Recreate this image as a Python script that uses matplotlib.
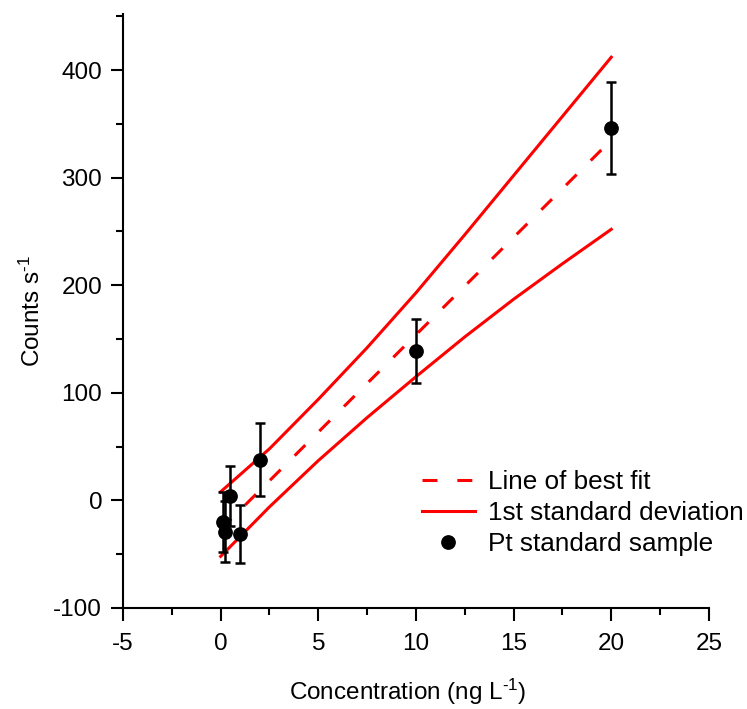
import matplotlib
matplotlib.use("Agg")
import matplotlib.pyplot as plt
from matplotlib.lines import Line2D
from matplotlib.ticker import MultipleLocator

plt.rcParams['font.family'] = ['Liberation Sans', 'DejaVu Sans']
plt.rcParams['mathtext.fontset'] = 'custom'
plt.rcParams['mathtext.rm'] = 'Liberation Sans'
plt.rcParams['mathtext.default'] = 'regular'
plt.rcParams['axes.unicode_minus'] = False

# Pt standard samples
conc = [0.1, 0.2, 0.5, 1, 2, 10, 20]
counts = [-20, -29, 4, -31, 38, 139, 346]
err = [28, 28, 28, 27, 34, 30, 43]

# best fit line and 1st standard deviation band
fit_x = [0, 20]
fit_y = [-27, 335]
band_x = [0, 2.5, 5, 7.5, 10, 12.5, 15, 17.5, 20]
band_upper = [8, 48, 94, 142, 193, 247, 302, 357, 412]
band_lower = [-52, -6, 37, 77, 115, 152, 187, 220, 252]

fig = plt.figure(figsize=(7.47, 7.09), dpi=100)
ax = fig.add_axes([0.1647, 0.1425, 0.949 - 0.1647, 0.98 - 0.1425])

red_dash = (0, (4.9, 6.5))
ax.plot(fit_x, fit_y, color='red', lw=2.2, ls=red_dash)
ax.plot(band_x, band_upper, color='red', lw=2.2)
ax.plot(band_x, band_lower, color='red', lw=2.2)
ax.errorbar(conc, counts, yerr=err, fmt='o', color='black', ms=9.6,
            elinewidth=1.8, capsize=3.6, capthick=1.8, zorder=5)

ax.set_xlim(-5, 25)
ax.set_ylim(-100, 452)
ax.xaxis.set_major_locator(MultipleLocator(5))
ax.xaxis.set_minor_locator(MultipleLocator(2.5))
ax.yaxis.set_major_locator(MultipleLocator(100))
ax.yaxis.set_minor_locator(MultipleLocator(50))
ax.spines['top'].set_visible(False)
ax.spines['right'].set_visible(False)
for s in ['left', 'bottom']:
    ax.spines[s].set_linewidth(1.5)
ax.tick_params(which='major', length=9, width=1.5, labelsize=17.5)
ax.tick_params(axis='x', which='major', pad=9)
ax.tick_params(axis='y', which='major', pad=6)
ax.tick_params(which='minor', length=5, width=1.5)

ax.set_xlabel(r'Concentration (ng L$^{\text{-}1}$)', fontsize=17.5, labelpad=16)
ax.xaxis.label.set_x(0.486)
ax.set_ylabel(r'Counts s$^{\text{-}1}$', fontsize=17.5, labelpad=6)

handles = [
    Line2D([], [], color='red', lw=2.2, ls=red_dash),
    Line2D([], [], color='red', lw=2.2),
    Line2D([], [], color='black', marker='o', ls='none', ms=9.6),
]
labels = ['Line of best fit', '1st standard deviation', 'Pt standard sample']
fig.legend(handles, labels, loc='center left', bbox_to_anchor=(0.5645, 1 - 513 / 709),
           frameon=False, fontsize=18.8, borderpad=0, borderaxespad=0,
           handlelength=2.05, handletextpad=0.5, labelspacing=0.28)

fig.savefig('out.png', dpi=100)
